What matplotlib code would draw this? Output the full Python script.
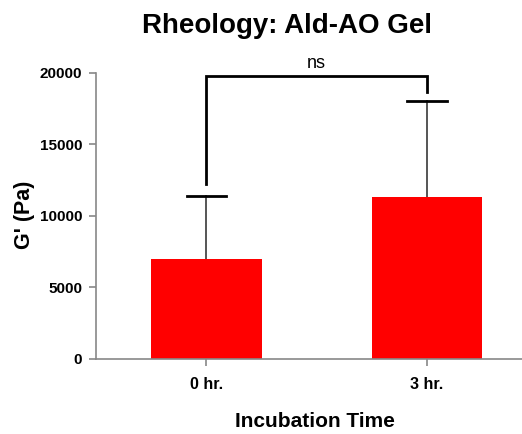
import matplotlib
matplotlib.use("Agg")
import matplotlib.pyplot as plt

# Rheology data: storage modulus G' after incubation
groups = ["0 hr.", "3 hr."]
g_prime = [7000, 11300]
g_err = [4400, 6750]
sig_label = "ns"
bracket_y = 19800

plt.rcParams["font.family"] = ["Liberation Sans", "DejaVu Sans"]

fig = plt.figure(figsize=(5.22, 4.34), dpi=100)
ax = fig.add_axes([0.184, 0.173, 0.816, 0.659])

x = list(range(len(groups)))
ax.bar(x, g_prime, width=0.5, color="#ff0000", zorder=2)
# upper error bars only: grey stem, black cap
for xi, v, e in zip(x, g_prime, g_err):
    ax.plot([xi, xi], [v, v + e], color="#555555", lw=1.4, zorder=1)
    ax.plot([xi - 0.09, xi + 0.09], [v + e, v + e], color="black", lw=2, zorder=3)

# significance bracket
left_end = g_prime[0] + g_err[0] + 800
right_end = g_prime[1] + g_err[1] + 650
ax.plot([x[0], x[0], x[1], x[1]], [left_end, bracket_y, bracket_y, right_end],
        color="black", lw=2, solid_joinstyle="miter")
ax.text((x[0] + x[1]) / 2, bracket_y + 250, sig_label, ha="center", va="bottom",
        fontsize=13)

ax.set_xlim(-0.5, 1.43)
ax.set_ylim(0, 20000)
ax.set_yticks([0, 5000, 10000, 15000, 20000])
ax.set_xticks(x)
ax.set_xticklabels(groups, fontsize=11.5, fontweight="bold")
for lab in ax.get_yticklabels():
    lab.set_fontsize(11)
    lab.set_fontweight("bold")

for s in ["top", "right"]:
    ax.spines[s].set_visible(False)
for s in ["left", "bottom"]:
    ax.spines[s].set_color("#888888")
    ax.spines[s].set_linewidth(1.2)
ax.tick_params(axis="both", colors="#888888", length=5, width=1.2, labelcolor="black")
ax.tick_params(axis="y", pad=5)
ax.tick_params(axis="x", pad=8)

fig.text(0.046, 0.505, "G' (Pa)", rotation=90, ha="center", va="center",
         fontsize=15.5, fontweight="bold")
fig.text(0.603, 0.028, "Incubation Time", ha="center", va="center",
         fontsize=15, fontweight="bold")
fig.text(0.549, 0.94, "Rheology: Ald-AO Gel", ha="center", va="center",
         fontsize=20, fontweight="bold")

fig.savefig("out.png", dpi=100)
